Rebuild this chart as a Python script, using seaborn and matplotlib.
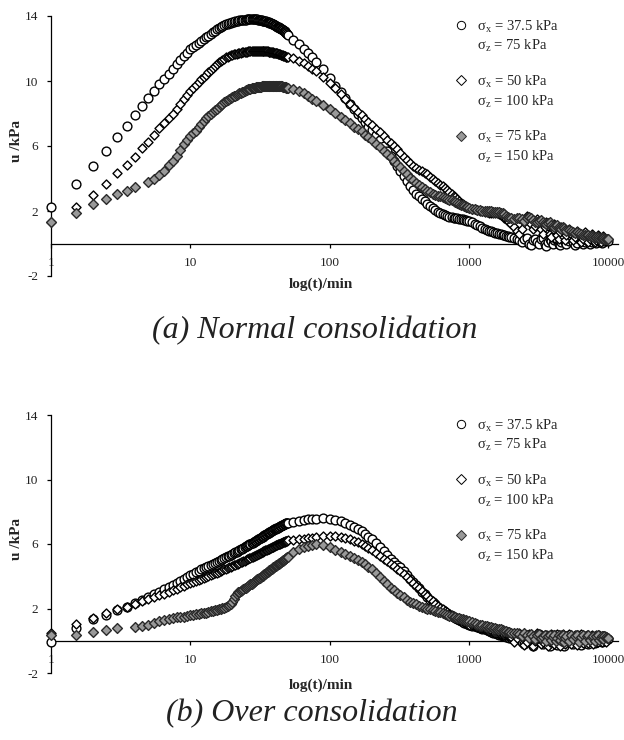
import numpy as np
import pandas as pd
import matplotlib
matplotlib.use('Agg')
import matplotlib.pyplot as plt
from matplotlib.lines import Line2D
from matplotlib.ticker import FixedLocator, FixedFormatter, NullLocator
import seaborn as sns

sns.set_style('white')
plt.rcParams['font.family'] = ['Liberation Serif', 'DejaVu Serif']
plt.rcParams['mathtext.fontset'] = 'custom'
plt.rcParams['mathtext.rm'] = 'Liberation Serif'
plt.rcParams['axes.unicode_minus'] = False

nan = np.nan

# sampling times (min)
t_early = [1, 1.5, 2, 2.5, 3, 3.5, 4, 4.5, 5, 5.5, 6, 6.5, 7, 7.5, 8, 8.5, 9, 9.5, 10]
t_dense = [10.5, 11, 11.5, 12, 12.5, 13, 13.5, 14, 14.5, 15,
           15.5, 16, 16.5, 17, 17.5, 18, 18.5, 19, 19.5, 20,
           20.5, 21, 21.5, 22, 22.5, 23, 23.5, 24, 24.5, 25,
           25.5, 26, 26.5, 27, 27.5, 28, 28.5, 29, 29.5, 30,
           30.5, 31, 31.5, 32, 32.5, 33, 33.5, 34, 34.5, 35,
           35.5, 36, 36.5, 37, 37.5, 38, 38.5, 39, 39.5, 40,
           40.5, 41, 41.5, 42, 42.5, 43, 43.5, 44, 44.5, 45,
           45.5, 46, 46.5, 47, 47.5, 48, 48.5, 49, 49.5, 50]
t_mid = [55, 60, 65, 70, 75, 80, 90, 100, 110, 120,
         130, 140, 150, 160, 170, 180, 190, 200, 215, 230,
         245, 260, 275, 290, 305, 320, 340, 360, 380, 400,
         420, 440, 460, 480, 500, 525, 550, 575, 600, 625,
         650, 675, 700, 725, 750, 775, 800, 825, 850, 875,
         900, 925, 950, 975, 1000]
t_late = [1050, 1100, 1150, 1200, 1250, 1300, 1350, 1400, 1450, 1500,
          1550, 1600, 1650, 1700, 1750, 1800, 1850, 1900, 1950, 2000,
          2100, 2200, 2300, 2400, 2500, 2600, 2700, 2800, 2900, 3000,
          3100, 3200, 3300, 3400, 3500, 3600, 3700, 3800, 3900, 4000,
          4100, 4200, 4300, 4400, 4500, 4600, 4700, 4800, 4900, 5000,
          5200, 5400, 5600, 5800, 6000, 6200, 6400, 6600, 6800, 7000,
          7200, 7400, 7600, 7800, 8000, 8200, 8400, 8600, 8800, 9000,
          9200, 9400, 9600, 9800, 10000]
times = t_early + t_dense + t_mid + t_late

# (a) normal consolidation, excess pore pressure u (kPa)
nc_s375 = ([2.26, 3.66, 4.79, 5.67, 6.55, 7.25, 7.9, 8.45, 8.95, 9.4, 9.8, 10.15, 10.45, 10.75, 11.05, 11.3, 11.55, 11.75, 11.95]
           + [12.08, 12.2, 12.33, 12.45, 12.58, 12.7, 12.8, 12.9, 13.0, 13.1,
              13.18, 13.25, 13.32, 13.38, 13.43, 13.48, 13.52, 13.56, 13.59, 13.62,
              13.65, 13.67, 13.69, 13.71, 13.73, 13.74, 13.75, 13.76, 13.77, 13.78,
              13.79, 13.79, 13.8, 13.8, 13.8, 13.8, 13.8, 13.8, 13.79, 13.79,
              13.78, 13.77, 13.76, 13.75, 13.74, 13.72, 13.71, 13.7, 13.68, 13.67,
              13.65, 13.63, 13.61, 13.6, 13.58, 13.55, 13.53, 13.5, 13.48, 13.45,
              13.42, 13.4, 13.38, 13.35, 13.32, 13.3, 13.28, 13.25, 13.22, 13.2,
              13.17, 13.15, 13.12, 13.1, 13.05, 13.0, 12.97, 12.95, 12.9, 12.85]
           + [12.55, 12.3, 11.95, 11.7, 11.45, 11.2, 10.75, 10.2, 9.7, 9.3,
              8.95, 8.6, 8.3, 8.0, 7.7, 7.45, 7.2, 7.0, 6.65, 6.35,
              6.0, 5.7, 5.4, 5.1, 4.8, 4.45, 4.15, 3.85, 3.55, 3.3,
              3.05, 2.9, 2.75, 2.6, 2.45, 2.3, 2.18, 2.05, 1.95, 1.87,
              1.8, 1.75, 1.7, 1.66, 1.63, 1.6, 1.57, 1.55, 1.52, 1.5,
              1.48, 1.45, 1.42, 1.4, 1.37]
           + [1.3, 1.22, 1.15, 1.05, 0.98, 0.9, 0.85, 0.8, 0.75, 0.7,
              0.66, 0.63, 0.6, 0.58, 0.55, 0.5, 0.48, 0.45, 0.43, 0.4,
              0.35, 0.3, 0.2, 0.1, 0.3, 0.35, 0.0, -0.1, 0.2, 0.3,
              0.1, 0.0, 0.3, 0.35, 0.0, -0.15, 0.1, 0.25, 0.15, 0.0,
              0.2, 0.3, 0.25, -0.05, -0.1, 0.1, 0.25, 0.3, 0.1, 0.0,
              0.15, 0.3, 0.1, -0.1, 0.05, 0.25, 0.2, 0.0, 0.1, 0.3,
              0.15, 0.0, 0.1, 0.25, 0.2, 0.05, 0.15, 0.25, 0.1, 0.05,
              0.2, 0.15, 0.25, 0.2, 0.15])
nc_s50 = ([1.3, 2.23, 2.98, 3.64, 4.32, 4.83, 5.34, 5.86, 6.26, 6.68, 7.09, 7.4, 7.7, 8.0, 8.3, 8.6, 8.9, 9.15, 9.4]
          + [9.58, 9.75, 9.92, 10.1, 10.25, 10.4, 10.55, 10.7, 10.83, 10.95,
             11.05, 11.15, 11.23, 11.3, 11.38, 11.45, 11.5, 11.55, 11.59, 11.62,
             11.65, 11.67, 11.69, 11.71, 11.73, 11.75, 11.77, 11.78, 11.79, 11.8,
             11.81, 11.82, 11.83, 11.84, 11.84, 11.85, 11.85, 11.86, 11.86, 11.86,
             11.86, 11.86, 11.86, 11.86, 11.85, 11.85, 11.85, 11.84, 11.84, 11.83,
             11.83, 11.82, 11.81, 11.8, 11.79, 11.78, 11.77, 11.76, 11.75, 11.74,
             11.73, 11.72, 11.71, 11.7, 11.68, 11.67, 11.65, 11.64, 11.62, 11.61,
             11.59, 11.58, 11.56, 11.55, 11.53, 11.52, 11.5, 11.49, 11.47, 11.46]
          + [11.4, 11.25, 11.1, 10.95, 10.75, 10.6, 10.25, 9.9, 9.55, 9.2,
             8.9, 8.6, 8.35, 8.1, 7.9, 7.65, 7.45, 7.3, 7.05, 6.85,
             6.6, 6.4, 6.2, 6.0, 5.8, 5.6, 5.35, 5.15, 4.95, 4.8,
             4.65, 4.55, 4.45, 4.35, 4.25, 4.1, 3.98, 3.85, 3.75, 3.63,
             3.52, 3.4, 3.28, 3.15, 3.05, 2.95, 2.85, 2.72, 2.62, 2.52,
             2.45, 2.38, 2.32, 2.26, 2.2]
          + [2.15, 2.1, 2.05, 2.0, 1.98, 1.95, 1.93, 1.9, 1.9, 1.88,
             1.87, 1.85, 1.8, 1.75, 1.68, 1.6, 1.5, 1.4, 1.3, 1.2,
             1.0, 0.8, 0.6, 0.9, 1.3, 1.7, 1.6, 1.2, 0.9, 1.1,
             1.5, 1.4, 0.9, 0.6, 1.0, 1.3, 1.1, 0.6, 0.4, 0.9,
             1.2, 1.0, 0.5, 0.3, 0.7, 1.0, 0.8, 0.4, 0.2, 0.5,
             0.9, 0.6, 0.2, 0.4, 0.8, 0.5, 0.1, 0.3, 0.7, 0.4,
             0.1, 0.3, 0.6, 0.4, 0.1, 0.2, 0.5, 0.4, 0.1, 0.3,
             0.45, 0.3, 0.15, 0.3, 0.3])
nc_s75 = ([1.34, 1.9, 2.43, 2.72, 3.05, 3.25, 3.46, nan, 3.8, 4.0, 4.2, 4.45, 4.85, 5.1, 5.4, 5.75, 6.1, 6.35, 6.6]
          + [6.78, 6.95, 7.15, 7.35, 7.52, 7.7, 7.85, 8.0, 8.1, 8.2,
             8.3, 8.4, 8.5, 8.6, 8.68, 8.75, 8.83, 8.9, 8.95, 9.0,
             9.05, 9.1, 9.15, 9.2, 9.24, 9.28, 9.32, 9.35, 9.39, 9.42,
             9.45, 9.48, 9.5, 9.53, 9.55, 9.57, 9.58, 9.6, 9.61, 9.62,
             9.63, 9.64, 9.65, 9.66, 9.67, 9.68, 9.69, 9.7, 9.7, 9.71,
             9.71, 9.72, 9.72, 9.72, 9.72, 9.72, 9.72, 9.72, 9.72, 9.72,
             9.72, 9.72, 9.71, 9.71, 9.7, 9.7, 9.69, 9.69, 9.68, 9.68,
             9.67, 9.66, 9.65, 9.64, 9.63, 9.62, 9.61, 9.6, 9.59, 9.58]
          + [9.5, 9.4, 9.25, 9.05, 8.9, 8.75, 8.55, 8.3, 8.05, 7.8,
             7.6, 7.4, 7.2, 7.05, 6.9, 6.7, 6.55, 6.4, 6.15, 5.95,
             5.7, 5.5, 5.3, 5.1, 4.9, 4.7, 4.45, 4.25, 4.05, 3.9,
             3.75, 3.6, 3.48, 3.35, 3.25, 3.15, 3.07, 3.0, 2.95, 2.9,
             2.85, 2.8, 2.75, 2.7, 2.65, 2.6, 2.55, 2.5, 2.45, 2.4,
             2.35, 2.3, 2.27, 2.23, 2.2]
          + [2.15, 2.1, 2.07, 2.05, 2.03, 2.0, 1.99, 1.98, 1.97, 1.96,
             1.95, 1.95, 1.93, 1.9, 1.85, 1.8, 1.72, 1.65, 1.6, 1.55,
             1.5, 1.55, 1.6, 1.5, 1.4, 1.55, 1.65, 1.6, 1.45, 1.35,
             1.3, 1.4, 1.45, 1.35, 1.25, 1.2, 1.25, 1.3, 1.15, 1.05,
             1.0, 1.1, 1.12, 1.0, 0.95, 0.9, 1.0, 0.95, 0.85, 0.8,
             0.85, 0.8, 0.7, 0.65, 0.7, 0.65, 0.6, 0.55, 0.55, 0.5,
             0.5, 0.45, 0.45, 0.42, 0.42, 0.4, 0.38, 0.36, 0.35, 0.33,
             0.32, 0.3, 0.3, 0.28, 0.27])

# (b) over consolidation
oc_s375 = ([-0.05, 0.8, 1.33, 1.6, 1.9, 2.1, 2.36, 2.53, 2.73, 2.88, 3.05, 3.2, 3.35, 3.48, 3.6, 3.72, 3.84, 3.95, 4.05]
           + [4.15, 4.25, 4.34, 4.42, 4.5, 4.58, 4.65, 4.72, 4.79, 4.85,
              4.91, 4.97, 5.03, 5.08, 5.13, 5.18, 5.23, 5.28, 5.33, 5.38,
              5.43, 5.48, 5.53, 5.58, 5.63, 5.67, 5.72, 5.76, 5.81, 5.85,
              5.89, 5.93, 5.97, 6.01, 6.05, 6.09, 6.13, 6.17, 6.21, 6.25,
              6.29, 6.32, 6.36, 6.39, 6.43, 6.46, 6.5, 6.53, 6.57, 6.6,
              6.63, 6.66, 6.69, 6.72, 6.75, 6.78, 6.81, 6.84, 6.87, 6.9,
              6.92, 6.95, 6.97, 7.0, 7.02, 7.05, 7.07, 7.1, 7.12, 7.14,
              7.16, 7.18, 7.2, 7.22, 7.24, 7.26, 7.28, 7.3, 7.32, 7.33]
           + [7.38, 7.44, 7.48, 7.52, 7.55, 7.57, 7.6, 7.57, 7.5, 7.4,
              7.3, 7.18, 7.05, 6.92, 6.78, 6.62, 6.45, 6.3, 6.05, 5.8,
              5.55, 5.3, 5.1, 4.9, 4.72, 4.55, 4.3, 4.05, 3.85, 3.65,
              3.45, 3.25, 3.05, 2.88, 2.72, 2.55, 2.38, 2.25, 2.12, 2.0,
              1.9, 1.8, 1.7, 1.62, 1.55, 1.48, 1.42, 1.36, 1.3, 1.24,
              1.18, 1.13, 1.08, 1.03, 0.98]
           + [0.94, 0.9, 0.85, 0.8, 0.75, 0.7, 0.65, 0.6, 0.55, 0.5,
              0.46, 0.42, 0.38, 0.35, 0.32, 0.28, 0.25, 0.22, 0.2, 0.18,
              0.1, 0.3, 0.4, -0.1, -0.2, 0.2, 0.35, 0.0, -0.3, 0.1,
              0.3, 0.4, -0.1, -0.2, 0.2, 0.35, 0.1, -0.3, -0.1, 0.25,
              0.35, 0.0, -0.25, 0.1, 0.3, 0.35, -0.05, -0.3, 0.0, 0.3,
              0.35, -0.1, -0.2, 0.2, 0.35, 0.0, -0.25, 0.1, 0.3, 0.1,
              -0.2, 0.1, 0.3, 0.25, -0.15, -0.1, 0.2, 0.3, 0.0, -0.1,
              0.2, 0.3, 0.05, 0.1, 0.1])
oc_s50 = ([0.45, 1.05, 1.4, 1.73, 1.95, 2.12, 2.3, 2.45, 2.58, 2.7, 2.82, 2.93, 3.04, 3.14, 3.24, 3.33, 3.42, 3.5, 3.58]
          + [3.65, 3.72, 3.78, 3.85, 3.91, 3.97, 4.03, 4.08, 4.13, 4.18,
             4.23, 4.28, 4.33, 4.37, 4.42, 4.46, 4.51, 4.55, 4.59, 4.63,
             4.67, 4.71, 4.75, 4.79, 4.83, 4.87, 4.9, 4.94, 4.97, 5.01,
             5.04, 5.08, 5.11, 5.15, 5.18, 5.22, 5.25, 5.28, 5.31, 5.34,
             5.37, 5.4, 5.43, 5.46, 5.49, 5.52, 5.55, 5.57, 5.6, 5.62,
             5.65, 5.67, 5.7, 5.72, 5.75, 5.77, 5.8, 5.82, 5.84, 5.87,
             5.89, 5.91, 5.93, 5.95, 5.97, 5.99, 6.01, 6.03, 6.05, 6.07,
             6.08, 6.1, 6.12, 6.13, 6.15, 6.16, 6.18, 6.19, 6.21, 6.22]
          + [6.26, 6.3, 6.33, 6.36, 6.4, 6.45, 6.5, 6.5, 6.48, 6.42,
             6.36, 6.3, 6.2, 6.1, 6.0, 5.88, 5.77, 5.65, 5.45, 5.28,
             5.1, 4.93, 4.78, 4.62, 4.48, 4.33, 4.13, 3.95, 3.78, 3.6,
             3.42, 3.25, 3.08, 2.92, 2.77, 2.6, 2.45, 2.3, 2.17, 2.05,
             1.95, 1.85, 1.76, 1.68, 1.6, 1.52, 1.45, 1.38, 1.32, 1.26,
             1.2, 1.15, 1.1, 1.05, 1.0]
          + [0.96, 0.92, 0.87, 0.82, 0.77, 0.72, 0.67, 0.62, 0.58, 0.55,
             0.51, 0.48, 0.45, 0.42, 0.39, 0.36, 0.33, 0.3, 0.27, 0.25,
             -0.1, 0.2, 0.45, 0.3, -0.25, -0.1, 0.4, 0.2, -0.3, 0.0,
             0.45, 0.25, -0.2, -0.05, 0.35, 0.2, -0.35, -0.1, 0.4, 0.2,
             -0.2, 0.1, 0.4, 0.2, -0.3, 0.0, 0.4, 0.3, -0.2, 0.1,
             0.4, -0.2, 0.1, 0.35, -0.25, 0.0, 0.4, -0.15, 0.1, 0.35,
             -0.15, 0.2, 0.35, -0.2, 0.0, 0.35, -0.1, 0.35, 0.0, -0.1,
             0.3, 0.1, -0.1, 0.2, 0.2])
oc_s75 = ([0.35, 0.36, 0.52, 0.67, 0.77, nan, 0.87, 0.9, 1.0, 1.1, 1.2, 1.28, 1.35, 1.4, 1.45, 1.48, 1.5, 1.55, 1.6]
          + [1.62, 1.65, 1.68, 1.7, 1.72, 1.75, 1.78, 1.82, 1.85, 1.88,
             1.92, 1.95, 1.98, 2.02, 2.06, 2.1, 2.15, 2.2, 2.28, 2.4,
             2.6, 2.8, 2.92, 3.0, 3.05, 3.1, 3.15, 3.2, 3.25, 3.3,
             3.35, 3.4, 3.45, 3.5, 3.55, 3.6, 3.65, 3.7, 3.75, 3.8,
             3.84, 3.88, 3.92, 3.96, 4.0, 4.04, 4.08, 4.12, 4.16, 4.2,
             4.24, 4.28, 4.32, 4.36, 4.4, 4.44, 4.48, 4.52, 4.56, 4.6,
             4.63, 4.66, 4.69, 4.72, 4.75, 4.78, 4.81, 4.84, 4.87, 4.9,
             4.93, 4.96, 4.99, 5.02, 5.05, 5.08, 5.11, 5.14, 5.17, 5.2]
          + [5.5, 5.7, 5.82, 5.9, 5.96, 6.0, 5.95, 5.8, 5.65, 5.5,
             5.38, 5.25, 5.12, 5.0, 4.88, 4.75, 4.6, 4.45, 4.2, 3.95,
             3.72, 3.5, 3.3, 3.12, 2.97, 2.85, 2.7, 2.55, 2.42, 2.32,
             2.25, 2.18, 2.12, 2.06, 2.0, 1.94, 1.89, 1.84, 1.8, 1.76,
             1.72, 1.66, 1.6, 1.56, 1.52, 1.48, 1.45, 1.41, 1.38, 1.35,
             1.32, 1.29, 1.26, 1.23, 1.2]
          + [1.15, 1.1, 1.05, 1.0, 0.96, 0.93, 0.9, 0.87, 0.83, 0.8,
             0.78, 0.75, 0.72, 0.7, 0.66, 0.62, 0.58, 0.55, 0.52, 0.5,
             0.48, 0.45, 0.4, 0.3, 0.45, 0.35, 0.2, 0.4, 0.3, 0.1,
             0.35, 0.4, 0.15, 0.25, 0.35, 0.0, 0.3, 0.35, 0.05, 0.25,
             0.35, 0.0, 0.2, 0.35, 0.05, 0.3, 0.35, -0.05, 0.2, 0.3,
             0.0, 0.35, 0.1, 0.3, 0.35, -0.05, 0.25, 0.35, 0.0, 0.3,
             0.35, 0.05, 0.25, 0.3, 0.0, 0.3, 0.35, 0.05, 0.2, 0.3,
             0.1, 0.3, 0.25, 0.2, 0.2])

labels_x = ['σ$_\\mathregular{x}$ = 37.5 kPa', 'σ$_\\mathregular{x}$ = 50 kPa', 'σ$_\\mathregular{x}$ = 75 kPa']
labels_z = ['σ$_\\mathregular{z}$ = 75 kPa', 'σ$_\\mathregular{z}$ = 100 kPa', 'σ$_\\mathregular{z}$ = 150 kPa']
xticks = [1, 10, 100, 1000, 10000]
yticks = [-2, 2, 6, 10, 14]

styles = [dict(marker='o', color='white', edgecolor='black', s=40),
          dict(marker='D', color='white', edgecolor='black', s=21),
          dict(marker='D', color='#999999', edgecolor='#2a2a2a', s=25)]

fig = plt.figure(figsize=(6.24, 7.4), dpi=100)
ax_a = fig.add_axes([51 / 624, (740 - 276) / 740, 567 / 624, 260 / 740])
ax_b = fig.add_axes([51 / 624, (740 - 673) / 740, 567 / 624, 258 / 740])

panels = [(ax_a, [nc_s375, nc_s50, nc_s75], -0.005),
          (ax_b, [oc_s375, oc_s50, oc_s75], -0.02)]

for ax, series, xlab_y in panels:
    for u, st in zip(series, styles):
        df = pd.DataFrame({'t': times, 'u': u})
        sns.scatterplot(data=df, x='t', y='u', ax=ax, linewidth=1.0,
                        legend=False, clip_on=False, zorder=3, **st)
    ax.set_xscale('log')
    ax.set_xlim(1, 11750)
    ax.set_ylim(-2, 14)
    for side in ['top', 'right']:
        ax.spines[side].set_visible(False)
    ax.spines['bottom'].set_position(('data', 0))
    for side in ['left', 'bottom']:
        ax.spines[side].set_color('black')
        ax.spines[side].set_linewidth(0.9)
    ax.xaxis.set_major_locator(FixedLocator(xticks))
    ax.xaxis.set_major_formatter(FixedFormatter([str(v) for v in xticks]))
    ax.xaxis.set_minor_locator(NullLocator())
    ax.set_yticks(yticks)
    ax.tick_params(axis='both', direction='out', length=3, width=0.9, color='black',
                   labelsize=9.5, labelcolor='#222222')
    ax.tick_params(axis='x', pad=6.5, bottom=True)
    ax.tick_params(axis='y', pad=6, left=True)
    ax.set_xlabel('log(t)/min', fontsize=11, fontweight='bold')
    ax.set_ylabel('u /kPa', fontsize=11, fontweight='bold')
    ax.xaxis.set_label_coords(0.476, xlab_y)
    ax.yaxis.set_label_coords(-0.05, 0.52)
    ax.grid(False)

    handles, texts = [], []
    for i, st in enumerate(styles):
        ms = 6 if st['marker'] == 'o' else 5
        handles.append(Line2D([], [], linestyle='none', marker=st['marker'], markersize=ms,
                              markerfacecolor=st['color'], markeredgecolor=st['edgecolor'],
                              markeredgewidth=0.7))
        texts.append(labels_x[i])
        handles.append(Line2D([], [], linestyle='none'))
        texts.append(labels_z[i])
        if i < 2:
            handles.append(Line2D([], [], linestyle='none'))
            texts.append(' ')
    ax.legend(handles, texts, loc='upper left', bbox_to_anchor=(0.71, 0.992),
              frameon=False, fontsize=10.5, handlelength=1.0, handletextpad=0.6,
              labelspacing=0.2, borderpad=0, borderaxespad=0)

fig.text(315 / 624, 1 - 331 / 740, '(a) Normal consolidation', fontsize=23, style='italic',
         ha='center', va='center', color='#222222')
fig.text(312 / 624, 1 - 714 / 740, '(b) Over consolidation', fontsize=23, style='italic',
         ha='center', va='center', color='#222222')

fig.savefig('out.png', dpi=100, facecolor='white')
